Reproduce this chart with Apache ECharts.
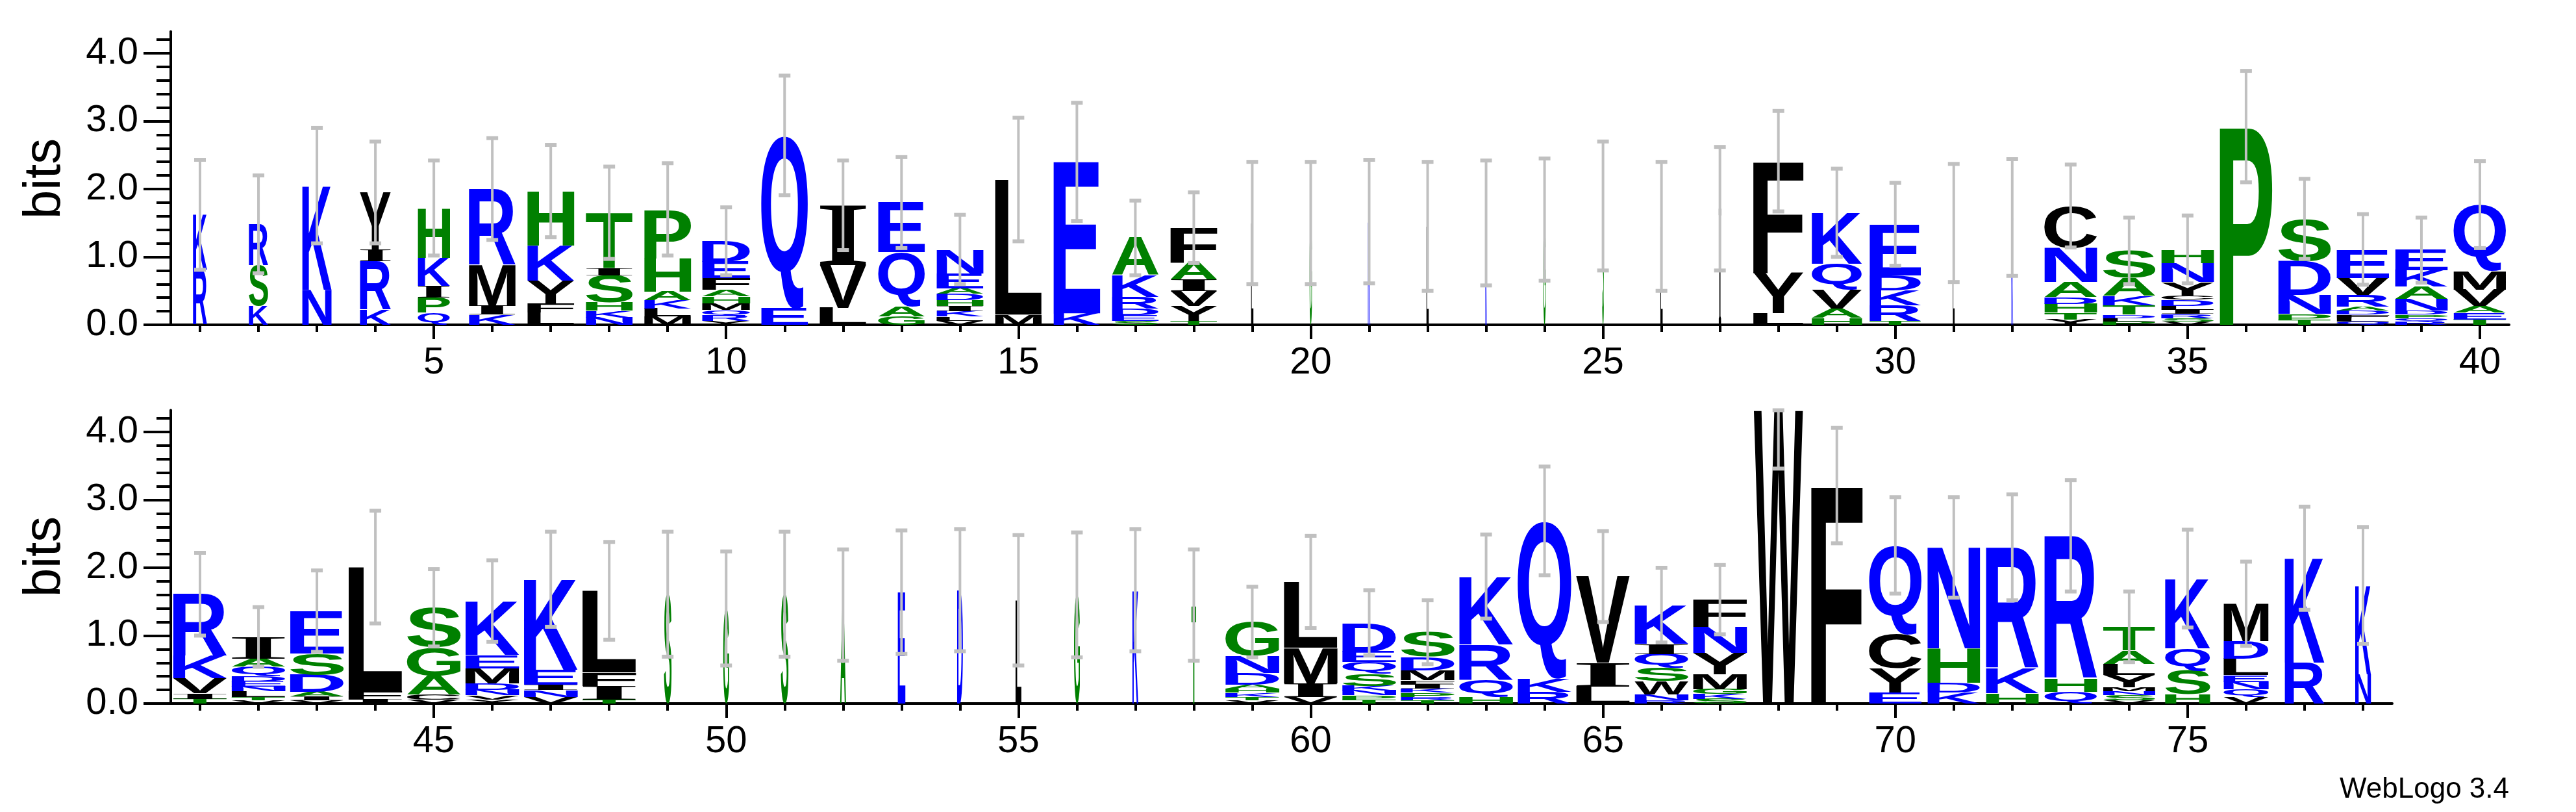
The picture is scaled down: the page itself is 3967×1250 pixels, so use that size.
<!DOCTYPE html>
<html>
<head>
<meta charset="utf-8">
<script src="https://cdn.jsdelivr.net/npm/echarts@6/dist/echarts.min.js"></script>
<style>
  html, body { margin: 0; padding: 0; background: #fff; }
  #logo { width: 3967px; height: 1250px; }
</style>
</head>
<body>
<div id="logo"></div>
<script>
// stacks read bottom -> top, heights in bits
var positions = [];
for (var p = 1; p <= 78; p++) positions.push(p);

var stackLetters = [
  'RK', 'KSR', 'NK', 'KRIY', 'QPIKH', 'KIMR', 'LFYKH', 'NKHSIT', 'MLKAHP', 'YRQMHAFED',
  'EQ', 'LVI', 'GAQE', 'VLKIHDAEN', 'ML', 'KE', 'SEDRKA', 'TYVIAF', 'L', 'G',
  'K', 'L', 'K', 'G', 'S', 'L', 'I', 'LYF', 'HAVQK', 'TRKDE',
  'L', 'K', 'YTHDANC', 'PLDTKAS', 'VSRILDCYNH', 'P', 'TPNDS', 'QLFDARVE', 'RQPDNAKE', 'TEAVMQ',
  'TIVKR', 'VTLNEDQAI', 'VIADSE', 'IFL', 'VCAGS', 'YVNDMEK', 'VNIEK', 'TIFL', 'S', 'G',
  'S', 'A', 'E', 'D', 'L', 'G', 'K', 'T', 'VTKHADNG', 'VIML',
  'TPNKSQED', 'TRPKIFMDS', 'HQRK', 'RKQ', 'LIV', 'RNWSQIK', 'SKGMYNF', 'W', 'F', 'EYCQ',
  'KDHN', 'HKR', 'QHR', 'VSNMYLAT', 'HSQK', 'VQNELDM', 'RK', 'NK'
];

var stackHeights = [
  [.81, .81], [.28, .6, .6], [.52, 1.53], [.22, .72, .17, .84], [.18, .22, .17, .42, .73],
  [.15, .13, .6, 1.12], [.18, .14, .33, .52, .8], [.11, .1, .12, .4, .1, .82],
  [.12, .12, .12, .13, .49, .72], [.06, .08, .08, .1, .1, .1, .17, .24, .3],
  [.24, 2.55], [.25, .63, .88], [.12, .15, .8, .73], [.06, .06, .08, .08, .08, .1, .08, .22, .35],
  [.15, 1.99], [.17, 2.23], [.06, .08, .1, .17, .32, .55], [.06, .22, .22, .17, .24, .52],
  [1.5], [1.5], [1.52], [1.45], [1.5], [1.55], [1.75], [1.45], [1.71],
  [.17, .6, 1.64], [.1, .14, .28, .38, .75], [.06, .23, .22, .22, .75], [1.5], [1.58],
  [.08, .1, .13, .1, .22, .5, .62], [.05, .05, .05, .14, .14, .26, .4],
  [.05, .05, .06, .06, .06, .09, .06, .2, .28, .2], [2.92], [.07, .09, .28, .5, .62],
  [.05, .05, .05, .06, .06, .17, .25, .42], [.05, .05, .05, .06, .17, .18, .24, .3],
  [.08, .1, .1, .24, .27, .98],
  [.07, .08, .22, .33, .91], [.05, .05, .08, .07, .08, .07, .14, .12, .32], [.05, .05, .07, .25, .32, .62],
  [.06, .12, 1.83], [.06, .07, .28, .42, .58], [.06, .06, .08, .1, .22, .2, .79], [.1, .1, .08, .22, 1.33],
  [.06, .2, .2, 1.2], [1.61], [1.4], [1.61], [1.45], [1.64], [1.67], [1.52], [1.6], [1.67], [1.45],
  [.05, .05, .06, .06, .06, .17, .25, .5], [.1, .2, .52, .97], [.06, .06, .07, .07, .18, .17, .16, .42],
  [.05, .05, .06, .06, .06, .06, .15, .2, .36], [.1, .25, .52, 1.0], [.17, .2, 2.32], [.25, .35, 1.27],
  [.05, .08, .2, .2, .2, .15, .57], [.07, .07, .07, .22, .32, .38, .4], [4.32], [3.21],
  [.16, .36, .5, 1.31], [.16, .15, .5, 1.49], [.15, .37, 1.78], [.17, .2, 2.1],
  [.05, .07, .06, .06, .18, .16, .2, .35], [.14, .35, .32, 1.03], [.1, .11, .11, .1, .24, .26, .55],
  [.6, 1.54], [.43, 1.31]
];

// fraction of the column width used by the stack
var stackWidths = [
  .24, .33, .5, .53, .55, .8, .8, .8, .8, .82, .8, .8, .8, .8, .8, .8, .8, .8,
  .04, .04, .04, .04, .03, .04, .03, .04, .04,
  .86, .86, .88, .03, .03, .9, .9, .9, .9, .9, .9, .9, .9,
  .92, .92, .92, .92, .92, .92, .92, .92,
  .13, .1, .13, .1, .13, .1, .1, .1, .1, .08,
  .92, .92, .92, .92, .92, .92, .92, .92, .92, .84, .88,
  .9, .9, .9, .9, .89, .77, .77, .68, .27
];

// half length of the grey error bar
var errHalf = [
  .81, .72, .85, .75, .7, .75, .68, .68, .68, .5, .88, .66, .67, .51, .91, .87, .55, .52,
  .9, .9, .91, .95, .92, .9, .95, .95, .91, .74, .65, .61, .87, .86, .61, .49, .5, .82, .59, .52, .48, .64,
  .61, .44, .6, .83, .57, .6, .7, .72, .92, .84, .92, .82, .91, .9, .96, .92, .9, .82,
  .52, .68, .48, .47, .62, .8, .67, .55, .51, .86, .85, .71, .74, .78, .82, .52, .72, .62, .76, .86
];

var yMajor = [0, 1, 2, 3, 4];
var yMinor = [0, .2, .4, .6, .8, 1, 1.2, 1.4, 1.6, 1.8, 2, 2.2, 2.4, 2.6, 2.8, 3, 3.2, 3.4, 3.6, 3.8, 4, 4.2];

var BLUE = 'KRDENQ', GREEN = 'STHPAG';
function letterColor(c) {
  if (BLUE.indexOf(c) >= 0) return '#0000ff';
  if (GREEN.indexOf(c) >= 0) return '#008000';
  return '#000000';
}

var AA = 'ACDEFGHIKLMNPQRSTVWY';
var FONT = 'bold 200px "Liberation Sans", Arial, sans-serif';
var FONT_I = 'bold 200px "Liberation Serif", serif';
function fontOf(c) { return c === 'I' ? FONT_I : FONT; }
var metrics = {};
(function () {
  var ctx = document.createElement('canvas').getContext('2d');
  ctx.textBaseline = 'middle';
  ctx.textAlign = 'left';
  for (var i = 0; i < AA.length; i++) {
    ctx.font = fontOf(AA[i]);
    var m = ctx.measureText(AA[i]);
    metrics[AA[i]] = {
      L: m.actualBoundingBoxLeft, R: m.actualBoundingBoxRight,
      A: m.actualBoundingBoxAscent, D: m.actualBoundingBoxDescent
    };
  }
})();

function letterData(from, to) {
  var out = [];
  for (var i = from; i < to; i++) {
    var base = 0;
    var s = stackLetters[i], h = stackHeights[i];
    for (var j = 0; j < s.length; j++) {
      out.push([positions[i], base, base + h[j], stackWidths[i], AA.indexOf(s[j])]);
      base += h[j];
    }
  }
  return out;
}

function errData(from, to) {
  var out = [];
  for (var i = from; i < to; i++) {
    var tot = stackHeights[i].reduce(function (a, b) { return a + b; }, 0);
    out.push([positions[i], Math.max(0, tot - errHalf[i]), Math.min(4.32, tot + errHalf[i])]);
  }
  return out;
}

function renderLetter(params, api) {
  var x = api.value(0), y0 = api.value(1), y1 = api.value(2), w = api.value(3);
  var ch = AA[api.value(4)];
  var tl = api.coord([x - w / 2, y1]);
  var br = api.coord([x + w / 2, y0]);
  var bw = br[0] - tl[0], bh = br[1] - tl[1];
  if (bh < 0.5 || bw < 0.5) return;
  var m = metrics[ch];
  var sx = bw / (m.L + m.R), sy = bh / (m.A + m.D);
  return {
    type: 'text',
    x: tl[0] + m.L * sx,
    y: tl[1] + m.A * sy,
    scaleX: sx,
    scaleY: sy,
    style: {
      text: ch, x: 0, y: 0, font: fontOf(ch), fill: letterColor(ch),
      align: 'left', verticalAlign: 'middle'
    }
  };
}

function renderErr(params, api) {
  var x = api.value(0);
  var lo = api.coord([x, api.value(1)]);
  var hi = api.coord([x, api.value(2)]);
  var st = { stroke: '#c0c0c0', lineWidth: 4 };
  var cap = { stroke: '#c0c0c0', lineWidth: 6 };
  return {
    type: 'group',
    children: [
      { type: 'line', shape: { x1: lo[0], y1: lo[1], x2: hi[0], y2: hi[1] }, style: st },
      { type: 'line', shape: { x1: lo[0] - 9, y1: lo[1], x2: lo[0] + 9, y2: lo[1] }, style: cap },
      { type: 'line', shape: { x1: hi[0] - 9, y1: hi[1], x2: hi[0] + 9, y2: hi[1] }, style: cap }
    ]
  };
}

var labelFont = { fontFamily: '"Liberation Sans Narrow", "Liberation Sans", Arial, sans-serif', fontSize: 58, color: '#000' };
var lineStyle = { color: '#000', width: 4 };

function xAxes(gi, lo, hi) {
  var minor = [], major = [];
  for (var v = lo; v <= hi; v++) { minor.push(v); if (v % 5 === 0) major.push(v); }
  return [
    {
      gridIndex: gi, type: 'value', position: 'bottom', min: lo - 0.5, max: hi + 0.5,
      axisLine: { lineStyle: lineStyle, onZero: false },
      axisTick: { length: 11, lineStyle: lineStyle, customValues: minor },
      axisLabel: { show: false }, splitLine: { show: false }
    },
    {
      gridIndex: gi, type: 'value', position: 'bottom', min: lo - 0.5, max: hi + 0.5,
      axisLine: { show: false, onZero: false },
      axisTick: { length: 22, lineStyle: lineStyle, customValues: major },
      axisLabel: Object.assign({ customValues: major, margin: 30 }, labelFont),
      splitLine: { show: false }
    }
  ];
}

function yAxes(gi) {
  return [
    {
      gridIndex: gi, type: 'value', min: 0, max: 4.32, position: 'left',
      axisLine: { show: true, lineStyle: lineStyle },
      axisTick: { length: 22, lineStyle: lineStyle, customValues: yMinor },
      axisLabel: { show: false }, splitLine: { show: false }
    },
    {
      gridIndex: gi, type: 'value', min: 0, max: 4.32, position: 'left',
      axisLine: { show: false },
      axisTick: { length: 42, lineStyle: lineStyle, customValues: yMajor },
      axisLabel: Object.assign({
        customValues: yMajor, margin: 50,
        formatter: function (v) { return v.toFixed(1); }
      }, labelFont),
      splitLine: { show: false }
    }
  ];
}

var chart = echarts.init(document.getElementById('logo'), null, { renderer: 'canvas' });
var option = {
  backgroundColor: '#fff',
  animation: false,
  grid: [
    { left: 263, top: 48.5, width: 3601, height: 451.5 },
    { left: 263, top: 631.5, width: 3421, height: 451.5 }
  ],
  xAxis: xAxes(0, 1, 40).concat(xAxes(1, 41, 78)),
  yAxis: yAxes(0).concat(yAxes(1)),
  graphic: [
    { type: 'text', x: 70, y: 275, rotation: Math.PI / 2,
      style: { text: 'bits', font: '80px "Liberation Sans", Arial, sans-serif', fill: '#000', align: 'center', verticalAlign: 'middle' } },
    { type: 'text', x: 70, y: 857, rotation: Math.PI / 2,
      style: { text: 'bits', font: '80px "Liberation Sans", Arial, sans-serif', fill: '#000', align: 'center', verticalAlign: 'middle' } },
    { type: 'text', x: 3864, y: 1216,
      style: { text: 'WebLogo 3.4', font: '44px "Liberation Sans Narrow", "Liberation Sans", Arial, sans-serif', fill: '#000', align: 'right', verticalAlign: 'middle' } }
  ],
  series: [
    { type: 'custom', xAxisIndex: 0, yAxisIndex: 0, renderItem: renderLetter, data: letterData(0, 40), clip: false },
    { type: 'custom', xAxisIndex: 0, yAxisIndex: 0, renderItem: renderErr, data: errData(0, 40), clip: false, z: 3 },
    { type: 'custom', xAxisIndex: 2, yAxisIndex: 2, renderItem: renderLetter, data: letterData(40, 78), clip: false },
    { type: 'custom', xAxisIndex: 2, yAxisIndex: 2, renderItem: renderErr, data: errData(40, 78), clip: false, z: 3 }
  ]
};
chart.setOption(option);
window.addEventListener('resize', function () { chart.resize(); });
</script>
</body>
</html>
